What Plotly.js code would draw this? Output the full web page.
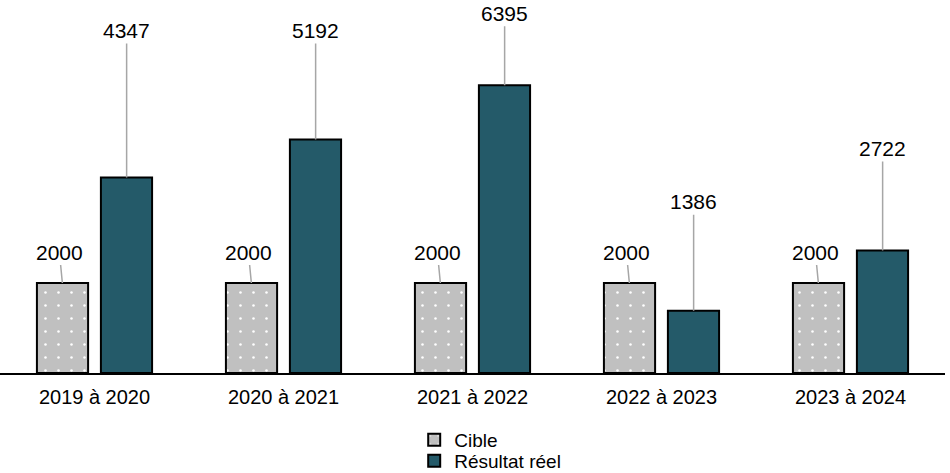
<!DOCTYPE html>
<html>
<head>
<meta charset="utf-8">
<script src="https://cdn.plot.ly/plotly-3.0.1.min.js"></script>
<style>
html, body { margin:0; padding:0; background:#fff; }
#chart { width:950px; height:473px; }
</style>
</head>
<body>
<div id="chart"></div>
<script>
var periodes = ["2019 à 2020", "2020 à 2021", "2021 à 2022", "2022 à 2023", "2023 à 2024"];
var cible = [2000, 2000, 2000, 2000, 2000];
var resultat = [4347, 5192, 6395, 1386, 2722];

// where the label sits relative to the bar top (pixels)
var cibleOffX = [-3, -3, -3, -3, -3];
var cibleOffY = [-31, -31, -31, -31, -31];
var resOffY = [-147, -109, -72, -109, -102];

var police = "Liberation Sans, Arial, sans-serif";

var traceCible =
{
    x: periodes,
    y: cible,
    name: "Cible",
    type: "bar",
    legend: "legend",
    marker: {
        color: "#c0c0c0",
        line: {color: "#000", width: 2},
        pattern: {shape: ".", bgcolor: "#c0c0c0", fgcolor: "#ffffff", size: 13, solidity: 0.03, fillmode: "replace"}
    },
    hoverinfo: "none"
};
var traceRes =
{
    x: periodes,
    y: resultat,
    name: "Résultat réel",
    type: "bar",
    legend: "legend2",
    marker: {color: "#245a69", line: {color: "#000", width: 2}},
    hoverinfo: "none"
};

var annotations = [];
for (var iii = 0; iii < periodes.length; iii++)
{
    annotations.push({
        x: iii - 0.17, y: cible[iii], xref: "x", yref: "y",
        text: String(cible[iii]),
        showarrow: true, arrowhead: 0, arrowwidth: 1.5, arrowcolor: "#a6a6a6",
        ax: cibleOffX[iii], ay: cibleOffY[iii],
        font: {family: police, size: 21, color: "#000"}
    });
    annotations.push({
        x: iii + 0.17, y: resultat[iii], xref: "x", yref: "y",
        text: String(resultat[iii]),
        showarrow: true, arrowhead: 0, arrowwidth: 1.5, arrowcolor: "#a6a6a6",
        ax: 0, ay: resOffY[iii],
        font: {family: police, size: 21, color: "#000"}
    });
}

var legendeBase = {
    orientation: "v", xref: "container", yref: "container",
    x: 0.436, xanchor: "left", yanchor: "middle",
    font: {size: 19}, itemwidth: 30, bgcolor: "rgba(0,0,0,0)"
};
var legende1 = Object.assign({}, legendeBase, {y: 1 - 440 / 473});
var legende2 = Object.assign({}, legendeBase, {y: 1 - 461 / 473});

var layout =
{
    width: 950,
    height: 473,
    margin: {l: 0, r: 5, t: 0, b: 100, autoexpand: false},
    paper_bgcolor: "#fff",
    plot_bgcolor: "#fff",
    barmode: "group",
    bargap: 0.323,
    bargroupgap: 0.2,
    font: {family: police, size: 20, color: "#000"},
    xaxis: {
        type: "category", automargin: false,
        showline: true, linecolor: "#000", linewidth: 2,
        ticks: "", showgrid: false, zeroline: false,
        ticklabelstandoff: 5,
        tickfont: {size: 20}
    },
    yaxis: {
        range: [0, 8290], visible: false, showgrid: false, zeroline: false, fixedrange: true, automargin: false
    },
    showlegend: true,
    legend: legende1,
    legend2: legende2,
    annotations: annotations
};

Plotly.newPlot("chart", [traceCible, traceRes], layout, {displayModeBar: false, staticPlot: true});
</script>
</body>
</html>
